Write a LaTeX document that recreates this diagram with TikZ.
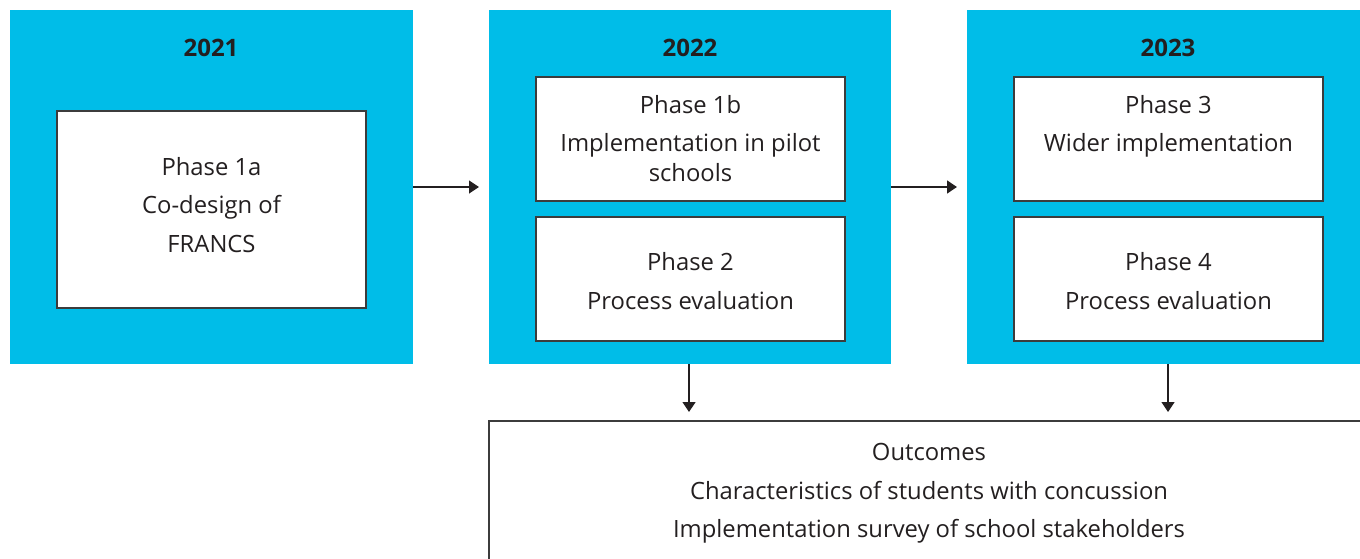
\documentclass[tikz,border=0pt]{standalone}
\usepackage{fontspec}
\setmainfont{Open Sans}
\usetikzlibrary{arrows.meta}
\definecolor{cblue}{RGB}{0,189,232}
\definecolor{ctext}{RGB}{35,31,32}
\definecolor{cline}{RGB}{60,60,60}
\begin{document}
\begin{tikzpicture}[x=1pt,y=-1pt,
  yearbox/.style={fill=cblue,draw=none},
  inbox/.style={fill=white,draw=cline,line width=1.3pt},
  txt/.style={text=ctext,font=\fontsize{23.8}{28}\selectfont,align=center,inner sep=0pt},
  yr/.style={text=ctext,font=\fontsize{24}{28}\selectfont\bfseries,inner sep=0pt},
  arr/.style={draw=ctext,line width=1.3pt,-{Triangle[width=13pt,length=10pt]}}]
\useasboundingbox (0,0) rectangle (1360,559);
\begin{scope}
\clip (0,0) rectangle (1360,559);
% year boxes
\path[yearbox] (10,10) rectangle (413,364);
\path[yearbox] (489,10) rectangle (891,364);
\path[yearbox] (967,10) rectangle (1370,364);
\node[yr] (t1) at (211,48) {2021};
\node[yr] (t2) at (690,48) {2022};
\node[yr] (t3) at (1168,48) {2023};
% inner boxes
\draw[inbox] (57,111) rectangle (366,308);
\node[txt] (p1a) at (211.5,205) {Phase 1a\\[10.5pt]Co-design of\\[10.5pt]FRANCS};
\draw[inbox] (536,77) rectangle (845,201);
\node[txt] (p1b) at (690.5,138.5) {Phase 1b\\[10.5pt]Implementation in pilot\\[2pt]schools};
\draw[inbox] (536,217) rectangle (845,341);
\node[txt] (p2) at (690.5,281) {Phase 2\\[10.5pt]Process evaluation};
\draw[inbox] (1014,77) rectangle (1323,201);
\node[txt] (p3) at (1168.5,126.5) {Phase 3\\[10.5pt]Wider implementation};
\draw[inbox] (1014,217) rectangle (1323,341);
\node[txt] (p4) at (1168.5,281) {Phase 4\\[10.5pt]Process evaluation};
% outcomes box
\draw[draw=cline,line width=1.3pt] (489,580) -- (489,421) -- (1380,421);
\node[txt] (out) at (929,493.5) {Outcomes\\[10.5pt]Characteristics of students with concussion\\[10.5pt]Implementation survey of school stakeholders};
% arrows
\coordinate (a1s) at (413,187); \coordinate (a1e) at (479,187);
\coordinate (a2s) at (891,187); \coordinate (a2e) at (957,187);
\coordinate (a3s) at (689,364); \coordinate (a3e) at (689,412);
\coordinate (a4s) at (1168,364); \coordinate (a4e) at (1168,412);
\draw[arr] (a1s) -- (a1e);
\draw[arr] (a2s) -- (a2e);
\draw[arr] (a3s) -- (a3e);
\draw[arr] (a4s) -- (a4e);
\end{scope}
\end{tikzpicture}
\end{document}
